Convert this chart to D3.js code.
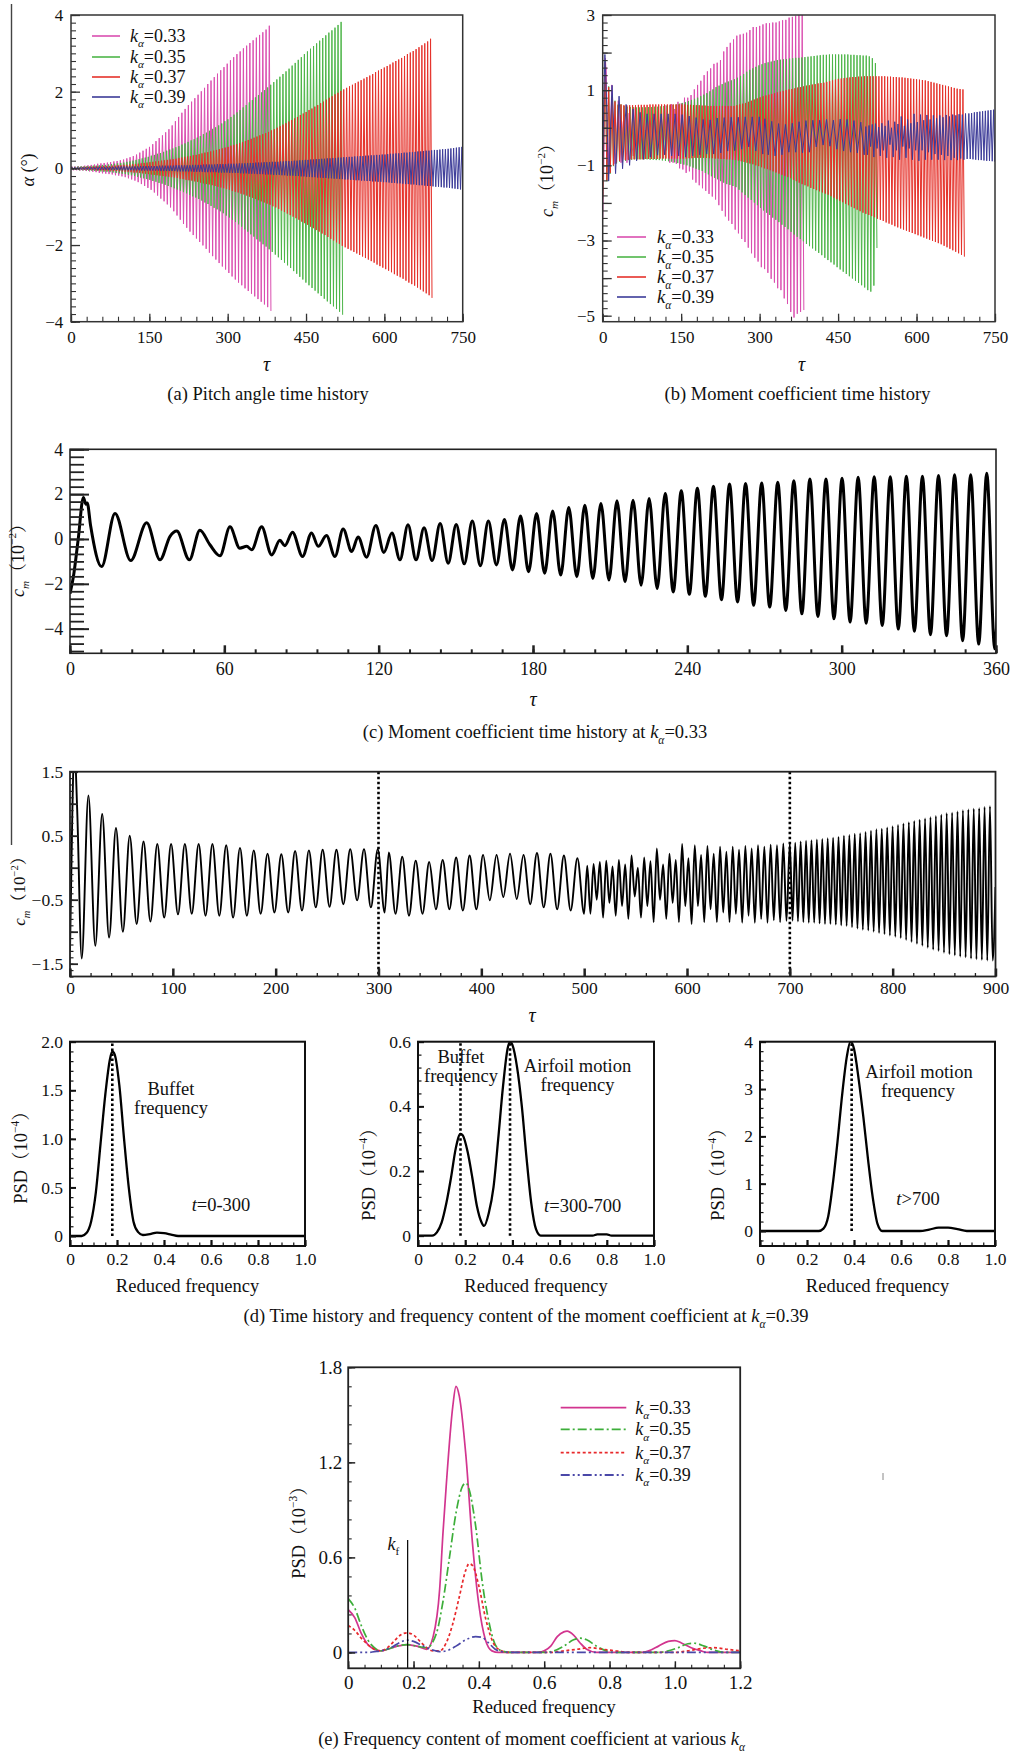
<!DOCTYPE html>
<html><head><meta charset="utf-8">
<script src="https://cdn.jsdelivr.net/npm/d3@7"></script>
<style>html,body{margin:0;padding:0;background:#fff;}svg{display:block;}</style>
</head><body>
<svg id="fig" width="1011" height="1754"></svg>
<script>
// ================= DATA =================
const kValues = ["0.33", "0.35", "0.37", "0.39"];
const colorsTH = ["#DA4FB0", "#4DB548", "#E5322B", "#3C3B98"];
const colorsPSD = ["#D2358F", "#3DAE3A", "#E8282B", "#4A48A8"];

// (a) pitch angle: amplitude of every cycle (deg)
const aStart = 1.5;
const aPeriods = [6.2, 5.86, 5.54, 5.26];
const aAmpK033 = [.05,.05,.06,.06,.07,.08,.09,.1,.12,.13,.14,.15,.16,.18,.19,.21,.23,.26,.29,.32,
  .36,.41,.46,.51,.56,.63,.71,.79,.86,.94,1.02,1.12,1.23,1.34,1.45,1.55,1.65,1.74,1.83,1.92,
  2.01,2.1,2.2,2.29,2.38,2.47,2.56,2.64,2.73,2.82,2.9,2.98,3.05,3.13,3.2,3.27,3.34,3.41,3.48,3.55,3.62,3.72];
const aAmpK035 = [.04,.04,.05,.05,.05,.06,.06,.07,.07,.08,.09,.09,.1,.11,.12,.13,.14,.15,.17,.18,
  .2,.22,.24,.26,.28,.3,.33,.35,.38,.4,.43,.46,.49,.52,.55,.58,.62,.65,.69,.73,
  .76,.8,.84,.89,.93,.98,1.03,1.07,1.12,1.17,1.23,1.28,1.34,1.4,1.46,1.52,1.59,1.65,1.72,1.78,
  1.85,1.91,1.98,2.04,2.11,2.18,2.25,2.32,2.39,2.46,2.53,2.6,2.68,2.75,2.83,2.9,2.98,3.05,3.12,3.19,
  3.26,3.33,3.4,3.47,3.54,3.6,3.67,3.74,3.82];
const aAmpK037 = [.03,.03,.03,.03,.04,.04,.04,.04,.05,.05,.05,.06,.06,.06,.07,.07,.08,.08,.09,.09,
  .1,.11,.11,.12,.13,.14,.15,.16,.17,.18,.19,.2,.21,.22,.23,.24,.25,.27,.28,.3,
  .31,.32,.34,.35,.37,.39,.41,.42,.44,.46,.48,.5,.52,.54,.56,.59,.61,.63,.66,.68,
  .71,.74,.77,.8,.83,.86,.89,.92,.95,.99,1.02,1.06,1.1,1.14,1.18,1.22,1.26,1.3,1.34,1.39,
  1.43,1.47,1.52,1.56,1.61,1.65,1.7,1.74,1.79,1.84,1.88,1.93,1.97,2.02,2.06,2.1,2.14,2.18,2.22,2.26,
  2.3,2.34,2.38,2.42,2.46,2.51,2.55,2.59,2.63,2.67,2.71,2.76,2.8,2.84,2.88,2.93,2.98,3.02,3.06,3.11,
  3.16,3.21,3.26,3.31,3.38];
const aAmpK039 = [.03,.03,.03,.03,.03,.03,.03,.03,.03,.04,.04,.04,.04,.04,.04,.04,.04,.05,.05,.05,
  .05,.05,.05,.05,.05,.06,.06,.06,.06,.06,.06,.06,.07,.07,.07,.07,.07,.07,.08,.08,
  .08,.08,.08,.08,.09,.09,.09,.09,.1,.1,.1,.1,.1,.11,.11,.11,.11,.12,.12,.12,
  .12,.13,.13,.13,.14,.14,.14,.15,.15,.15,.16,.16,.16,.17,.17,.17,.18,.18,.19,.19,
  .19,.2,.2,.21,.21,.22,.22,.23,.23,.24,.24,.25,.25,.26,.26,.27,.27,.28,.28,.29,
  .29,.3,.3,.31,.31,.32,.32,.33,.33,.34,.34,.35,.35,.36,.36,.37,.38,.38,.39,.39,
  .4,.41,.41,.42,.42,.43,.44,.44,.45,.46,.46,.47,.48,.48,.49,.5,.5,.51,.52,.53,.54,.55,.56];

// cm at k=0.33 (panel c, also pink in panel b): early transient [tau, cm], then max/min per cycle
const cmK033Early = [[0,-2.44],[1.3,-1.7],[3.2,0],[5.2,1.85],[6.2,1.55],[6.7,1.6],[8,.6],[12.3,-1.23],[17.5,1.14],
  [23.6,-.96],[29.8,.72],[35,-.93],[38.9,.12],[41.5,.35],[46.4,-.93],[50.5,.39],[54.4,-.26],[58.3,-.75],[62.2,.54],
  [66,-.41],[68.7,-.33],[70.6,-.48],[74.5,.54],[78.4,-.71],[81.6,-.06],[83.5,-.3],[86.5,.3],[90.4,-.78],[93.9,.27],
  [96.5,-.33],[99.7,.15],[103,-.78],[106.2,.45],[109.5,-.56],[112,.09],[115.3,-.81]];
const cmK033Start = 118.9, cmK033Period = 6.25;
const cmK033Max = [.6,.27,.63,.5,.69,.65,.8,.8,.87,1.02,1.14,1.25,1.4,1.5,1.58,1.7,1.73,1.8,2.03,2.15,
  2.26,2.35,2.45,2.48,2.5,2.53,2.6,2.68,2.68,2.71,2.75,2.78,2.78,2.8,2.8,2.83,2.86,2.87,2.93,2.95,2.98,3,3];
const cmK033Min = [-.6,-.93,-.93,-.96,-1.08,-1.11,-1.2,-1.16,-1.38,-1.46,-1.53,-1.61,-1.68,-1.76,-1.83,-1.91,-2.06,-2.21,-2.36,-2.47,
  -2.56,-2.71,-2.81,-2.96,-3.04,-3.19,-3.34,-3.46,-3.56,-3.71,-3.76,-3.86,-4.02,-4.12,-4.27,-4.32,-4.54,-4.69,-4.9,-5.05,-4.95,-4.9,-4.85];

// cm at k=0.35 (panel b, green)
const cmK035Early = [[0,-1.9],[2.5,.3],[5,1.8],[8,-1.42],[11.5,1.1],[14.5,-1.22],[17.5,.85],[20.5,-1.02],[23.5,.72],[26.5,-.95],[29.5,.62],[32.2,-.9]];
const cmK035Start = 35, cmK035Period = 5.86;
const cmK035Max = [.62,.58,.56,.55,.55,.54,.54,.54,.54,.55,.55,.56,.56,.57,.58,.59,.6,.61,.62,.64,
  .66,.68,.71,.74,.77,.8,.84,.88,.92,.97,1.02,1.08,1.12,1.16,1.2,1.23,1.26,1.29,1.33,1.38,
  1.43,1.49,1.54,1.58,1.62,1.66,1.69,1.72,1.74,1.76,1.78,1.8,1.81,1.82,1.83,1.84,1.85,1.86,1.86,1.87,
  1.88,1.89,1.9,1.91,1.92,1.93,1.94,1.94,1.95,1.95,1.95,1.95,1.95,1.95,1.95,1.94,1.94,1.93,1.93,1.92,
  1.92,1.9,1.85,1.72];
const cmK035Min = [-.92,-.88,-.86,-.85,-.84,-.84,-.84,-.84,-.84,-.85,-.85,-.86,-.86,-.87,-.88,-.89,-.9,-.92,-.94,-.96,
  -.98,-1,-1.03,-1.06,-1.09,-1.12,-1.15,-1.2,-1.24,-1.29,-1.33,-1.37,-1.42,-1.46,-1.5,-1.52,-1.55,-1.58,-1.65,-1.72,
  -1.79,-1.86,-1.92,-1.99,-2.06,-2.13,-2.2,-2.26,-2.32,-2.39,-2.45,-2.51,-2.58,-2.64,-2.7,-2.77,-2.84,-2.9,-2.96,-3.02,
  -3.09,-3.15,-3.21,-3.27,-3.33,-3.39,-3.46,-3.52,-3.58,-3.64,-3.71,-3.77,-3.83,-3.89,-3.95,-4.01,-4.07,-4.13,-4.19,-4.25,
  -4.32,-4.36,-4.2,-3.2];

// cm at k=0.37 (panel b, red)
const cmK037Early = [[0,-1.85],[2.5,.2],[5,1.75],[8,-1.4],[11.5,1.08],[14.5,-1.2],[17.5,.82],[20.5,-1],[23.5,.7],[26.5,-.92],[29.5,.6],[32.2,-.88]];
const cmK037Start = 35, cmK037Period = 5.54;
const cmK037Max = [.62,.6,.6,.6,.6,.6,.61,.61,.61,.61,.62,.62,.62,.62,.62,.62,.62,.62,.62,.62,.62,
  .62,.62,.61,.61,.6,.6,.6,.59,.59,.58,.58,.58,.58,.58,.58,.58,.58,.58,.58,
  .6,.62,.64,.66,.69,.72,.75,.78,.81,.84,.86,.88,.9,.92,.94,.96,.98,1,1.02,
  1.03,1.05,1.07,1.08,1.1,1.12,1.13,1.15,1.16,1.18,1.19,1.2,1.22,1.24,1.26,1.28,1.3,1.31,1.32,
  1.33,1.34,1.35,1.35,1.36,1.36,1.37,1.37,1.37,1.37,1.37,1.37,1.37,1.37,1.36,1.36,1.35,1.35,1.34,
  1.34,1.33,1.32,1.31,1.3,1.29,1.28,1.27,1.26,1.24,1.22,1.2,1.18,1.16,1.14,1.12,1.1,1.08,1.06,1.04,
  1.03,1.02];
const cmK037Min = [-.9,-.86,-.85,-.84,-.84,-.84,-.84,-.84,-.83,-.83,-.83,-.83,-.83,-.82,-.82,-.82,-.82,-.82,-.82,-.82,-.82,
  -.82,-.82,-.81,-.81,-.8,-.8,-.8,-.8,-.8,-.81,-.81,-.82,-.82,-.83,-.83,-.84,-.84,-.85,-.85,
  -.87,-.89,-.91,-.93,-.95,-.97,-1,-1.02,-1.05,-1.08,-1.1,-1.13,-1.16,-1.19,-1.22,-1.25,-1.28,-1.31,-1.34,
  -1.38,-1.42,-1.46,-1.5,-1.53,-1.56,-1.6,-1.63,-1.66,-1.69,-1.72,-1.75,-1.78,-1.82,-1.86,-1.9,-1.94,-1.98,-2.02,
  -2.06,-2.1,-2.14,-2.18,-2.22,-2.26,-2.29,-2.32,-2.35,-2.38,-2.42,-2.45,-2.48,-2.52,-2.55,-2.58,-2.62,-2.65,-2.68,
  -2.71,-2.74,-2.77,-2.8,-2.83,-2.86,-2.89,-2.92,-2.95,-2.98,-3.01,-3.04,-3.07,-3.1,-3.14,-3.18,-3.22,-3.26,-3.3,-3.34,
  -3.38,-3.43];

// cm at k=0.39 (panel d, also blue in panel b): transient, then four segments of max/min per cycle
const cmK039Early = [[0,-1.3],[2.2,.8],[4.2,1.95],[7,.9],[11.4,-1.42]];
const cmK039SegStart = [17.9, 310, 503, 700];
const cmK039SegPeriod = [13.4, 13.1, 6.15, 5.26];
const cmK039MaxA = [1.13,.84,.62,.5,.41,.37,.37,.37,.37,.37,.35,.31,.27,.22,.21,.26,.27,.28,.28,.29,.29,.29];
const cmK039MinA = [-1.22,-1.09,-1,-.88,-.84,-.78,-.73,-.72,-.75,-.75,-.78,-.75,-.72,-.7,-.7,-.67,-.62,-.61,-.57,-.51,-.62,-.7];
const cmK039MaxB = [.24,.17,.11,.09,.12,.16,.19,.2,.2,.22,.2,.23,.22,.19,.15];
const cmK039MinB = [-.72,-.75,-.72,-.65,-.65,-.67,-.65,-.51,-.46,-.49,-.57,-.62,-.65,-.67,-.72];
const cmK039MaxC = [.03,.06,.09,.11,.02,.12,.05,.19,0,.16,.1,.3,.05,.22,.12,.37,.15,.35,.2,.34,.22,.33,.25,.33,.28,.34,.3,.35,.33,.36,.35,.38];
const cmK039MinC = [-.72,-.5,-.78,-.55,-.75,-.6,-.8,-.45,-.78,-.6,-.85,-.5,-.8,-.55,-.85,-.6,-.88,-.6,-.85,-.65,-.85,-.7,-.85,-.72,-.86,-.75,-.86,-.8,-.86,-.82,-.85,-.83];
const cmK039MaxD = [.38,.39,.41,.42,.43,.44,.45,.46,.47,.48,.5,.51,.53,.54,.56,.58,.6,.61,.63,.65,.67,.69,.71,.73,.75,.77,.79,.81,.83,.85,.86,.88,.9,.91,.92,.93,.95,.96];
const cmK039MinD = [-.83,-.84,-.85,-.86,-.86,-.87,-.88,-.88,-.89,-.9,-.91,-.93,-.95,-.97,-.98,-1,-1.02,-1.04,-1.06,-1.08,-1.1,-1.13,-1.16,-1.19,-1.22,-1.25,-1.28,-1.3,-1.33,-1.35,-1.37,-1.39,-1.4,-1.42,-1.43,-1.44,-1.45,-1.45];
const cmK039End = [[900,-.3]];
const windowEdges = [300, 700];

// (d) PSD of cm at k=0.39 for three time windows [reduced frequency, PSD x1e-4]
const psdWin1 = [[0,0],[.05,0],[.07,.03],[.09,.15],[.11,.45],[.13,.95],[.15,1.45],[.17,1.82],[.18,1.9],[.19,1.87],[.21,1.55],[.23,1],[.25,.5],[.27,.15],[.29,.04],[.31,.01],[.34,.02],[.37,.035],[.4,.03],[.43,.015],[.46,0],[1,0]];
const psdWin2 = [[0,0],[.06,0],[.08,.01],[.1,.04],[.12,.1],[.14,.18],[.16,.27],[.18,.315],[.19,.31],[.21,.26],[.23,.18],[.25,.09],[.27,.04],[.28,.03],[.3,.07],[.32,.15],[.34,.3],[.36,.46],[.38,.58],[.39,.6],[.4,.59],[.42,.52],[.44,.4],[.46,.24],[.48,.1],[.5,.02],[.52,0],[.74,0],[.76,.004],[.8,.004],[.82,0],[1,0]];
const psdWin3 = [[0,0],[.25,0],[.27,.05],[.29,.3],[.31,1],[.33,1.9],[.35,2.9],[.37,3.7],[.385,4],[.4,3.85],[.42,3.2],[.44,2.4],[.46,1.5],[.48,.7],[.5,.15],[.52,0],[.68,0],[.72,.03],[.76,.07],[.8,.07],[.84,.04],[.88,0],[1,0]];
const buffetFreq = 0.18, motionFreq = 0.39;

// (e) PSD of cm at various k [reduced frequency, PSD x1e-3]
const psdK033 = [[0,.27],[.02,.22],[.04,.12],[.06,.05],[.08,.02],[.1,.01],[.12,.02],[.15,.04],[.18,.05],[.21,.04],[.24,.02],[.26,.1],[.28,.4],[.29,.75],[.3,1.05],[.32,1.55],[.33,1.68],[.34,1.62],[.36,1.25],[.38,.7],[.4,.3],[.42,.08],[.44,.01],[.46,0],[.58,0],[.6,.01],[.62,.04],[.64,.1],[.66,.13],[.67,.135],[.69,.11],[.71,.06],[.73,.02],[.76,0],[.9,0],[.92,.01],[.95,.04],[.98,.07],[1,.075],[1.02,.06],[1.05,.03],[1.08,.01],[1.1,0],[1.2,0]];
const psdK035 = [[0,.34],[.02,.28],[.04,.17],[.06,.08],[.08,.03],[.1,.01],[.12,.02],[.15,.04],[.18,.05],[.21,.04],[.24,.03],[.27,.12],[.29,.32],[.31,.6],[.33,.88],[.35,1.05],[.36,1.07],[.37,1.03],[.39,.8],[.41,.45],[.43,.2],[.45,.05],[.47,.01],[.5,0],[.6,0],[.63,.01],[.66,.04],[.69,.08],[.71,.09],[.73,.08],[.76,.04],[.79,.01],[.82,0],[.95,0],[.98,.01],[1.01,.03],[1.04,.055],[1.06,.058],[1.09,.04],[1.12,.015],[1.15,0],[1.2,0]];
const psdK037 = [[0,.17],[.02,.14],[.04,.09],[.06,.05],[.08,.02],[.1,.01],[.12,.03],[.14,.07],[.16,.11],[.18,.124],[.2,.11],[.22,.07],[.24,.03],[.26,.01],[.28,.01],[.3,.06],[.32,.18],[.34,.35],[.36,.52],[.37,.56],[.38,.55],[.4,.42],[.42,.22],[.44,.08],[.46,.02],[.49,0],[.62,0],[.66,.01],[.7,.02],[.74,.03],[.78,.02],[.82,.01],[.86,0],[1,0],[1.04,.01],[1.08,.025],[1.12,.03],[1.16,.02],[1.2,.01]];
const psdK039 = [[0,0],[.06,0],[.08,.005],[.1,.01],[.13,.03],[.16,.065],[.18,.078],[.2,.07],[.23,.04],[.26,.015],[.28,.005],[.3,.01],[.33,.04],[.36,.08],[.39,.1],[.41,.095],[.43,.06],[.45,.02],[.47,.005],[.5,0],[1.2,0]];
const kfFreq = 0.182, kfTop = 0.71;

// ================= DRAWING =================
const FONT = "'Liberation Serif','Times New Roman',Times,'Noto Serif CJK SC','Noto Sans CJK SC',serif";
const svg = d3.select("#fig");
svg.append("rect").attr("width", 1011).attr("height", 1754).attr("fill", "#fff");

function zig(t0, P, maxs, mins) {
  const pts = [];
  maxs.forEach((m, i) => {
    pts.push([t0 + i * P, m]);
    if (i < mins.length) pts.push([t0 + (i + 0.5) * P, mins[i]]);
  });
  return pts;
}
const rng = (a, b, s) => d3.range(Math.round(a / s), Math.round(b / s) + 1).map(i => +(i * s).toFixed(6));

let clipN = 0;
function makePanel(l, r, t, b, xd, yd) {
  const x = d3.scaleLinear().domain(xd).range([l, r]);
  const y = d3.scaleLinear().domain(yd).range([b, t]);
  const id = "cp" + (clipN++);
  svg.append("clipPath").attr("id", id).append("rect").attr("x", l).attr("y", t).attr("width", r - l).attr("height", b - t);
  const g = svg.append("g");
  const plot = g.append("g").attr("clip-path", `url(#${id})`);
  const over = g.append("g");
  return { x, y, g, plot, over, l, r, t, b };
}
function drawAxes(p, o) {
  const none = () => "";
  const col = o.col || "#222";
  const xb = `translate(0,${p.b})`, yl = `translate(${p.l},0)`;
  const xd = p.x.domain(), yd = p.y.domain();
  const inX = v => v >= Math.min(...xd) - 1e-9 && v <= Math.max(...xd) + 1e-9;
  const inY = v => v >= Math.min(...yd) - 1e-9 && v <= Math.max(...yd) + 1e-9;
  function ax(gen, vals, size, w, fmt, pad, tr) {
    const s = p.over.append("g").attr("transform", tr)
      .call(gen.tickValues(vals).tickSizeInner(size).tickSizeOuter(0).tickPadding(pad).tickFormat(fmt));
    s.select(".domain").remove();
    s.selectAll("line").attr("stroke", col).attr("stroke-width", w);
    s.selectAll("text").attr("font-family", FONT).attr("font-size", o.fs).attr("fill", "#111");
    return s;
  }
  ax(d3.axisBottom(p.x), o.xMinor.filter(inX), -o.xMinLen, o.xMinW, none, 0, xb);
  ax(d3.axisBottom(p.x), o.xMajor.filter(inX), -o.xMajLen, o.xMajW, none, 0, xb);
  ax(d3.axisLeft(p.y), o.yMinor.filter(inY), -o.yMinLen, o.yMinW, none, 0, yl);
  ax(d3.axisLeft(p.y), o.yMajor.filter(inY), -o.yMajLen, o.yMajW, none, 0, yl);
  ax(d3.axisBottom(p.x), o.xLab, 0, 0, o.xFmt, o.xPad, xb).selectAll("line").remove();
  ax(d3.axisLeft(p.y), o.yLab, 0, 0, o.yFmt, o.yPad, yl).selectAll("line").remove();
  p.over.append("rect").attr("x", p.l).attr("y", p.t).attr("width", p.r - p.l).attr("height", p.b - p.t)
    .attr("fill", "none").attr("stroke", col).attr("stroke-width", o.frameW);
}
function rich(parent, x, y, parts, fs, anchor, rotate) {
  const t = parent.append("text").attr("font-family", FONT).attr("font-size", fs).attr("fill", "#111")
    .attr("text-anchor", anchor || "start");
  if (rotate) t.attr("transform", `translate(${x},${y}) rotate(-90)`);
  else t.attr("x", x).attr("y", y);
  let cur = 0;
  parts.forEach(p => {
    if (typeof p === "string") p = { t: p };
    const s = t.append("tspan").text(p.t);
    let target = 0, size = fs;
    if (p.sub) { target = fs * 0.3; size = fs * 0.62; }
    if (p.sup) { target = -fs * 0.42; size = fs * 0.62; }
    if (p.it) s.attr("font-style", "italic");
    if (size !== fs) s.attr("font-size", size);
    if (target !== cur) { s.attr("dy", target - cur); cur = target; }
  });
  return t;
}
const kParts = v => [{ t: "k", it: true }, { t: "α", it: true, sub: true }, "=" + v];
const cmParts = e => [{ t: "c", it: true }, { t: "m", it: true, sub: true }, "（10", { t: "−" + e, sup: true }, "）"];
const psdParts = e => ["PSD（10", { t: "−" + e, sup: true }, "）"];
const signFmt = v => (v < 0 ? "−" : "") + Math.abs(v);
const dec1 = v => v === 0 ? "0" : (v < 0 ? "−" : "") + Math.abs(v).toFixed(1);

// left border line of the page
svg.append("line").attr("x1", 11.5).attr("x2", 11.5).attr("y1", 4).attr("y2", 845).attr("stroke", "#444").attr("stroke-width", 1.4);

// ----- series -----
const serK033 = cmK033Early.concat(zig(cmK033Start, cmK033Period, cmK033Max, cmK033Min));
const serK035 = cmK035Early.concat(zig(cmK035Start, cmK035Period, cmK035Max, cmK035Min));
const serK037 = cmK037Early.concat(zig(cmK037Start, cmK037Period, cmK037Max, cmK037Min));
const serK039 = cmK039Early
  .concat(zig(cmK039SegStart[0], cmK039SegPeriod[0], cmK039MaxA, cmK039MinA))
  .concat(zig(cmK039SegStart[1], cmK039SegPeriod[1], cmK039MaxB, cmK039MinB))
  .concat(zig(cmK039SegStart[2], cmK039SegPeriod[2], cmK039MaxC, cmK039MinC))
  .concat(zig(cmK039SegStart[3], cmK039SegPeriod[3], cmK039MaxD, cmK039MinD))
  .concat(cmK039End);
const aAmps = [aAmpK033, aAmpK035, aAmpK037, aAmpK039];

// ================= (a) =================
{
  const p = makePanel(71, 462.7, 15, 321.7, [0, 750], [-4, 4]);
  const line = d3.line().x(d => p.x(d[0])).y(d => p.y(d[1]));
  aAmps.forEach((amps, k) => {
    const pts = [[0, 0]].concat(zig(aStart, aPeriods[k], amps, amps.map(a => -a)));
    p.plot.append("path").attr("d", line(pts)).attr("fill", "none").attr("stroke", colorsTH[k]).attr("stroke-width", 1);
  });
  drawAxes(p, { fs: 17, xMajor: rng(0, 750, 150), xMinor: rng(0, 750, 30), yMajor: rng(-4, 4, 2), yMinor: rng(-4, 4, 0.2),
    xMajLen: 8, xMinLen: 5, yMajLen: 9, yMinLen: 5, xMajW: 1.3, xMinW: 1.1, yMajW: 1.3, yMinW: 1.1,
    xLab: rng(0, 750, 150), yLab: rng(-4, 4, 2), xFmt: d => d, yFmt: signFmt, xPad: 9.3, yPad: 7.7, frameW: 1.5, col: "#333" });
  kValues.forEach((v, k) => {
    const yy = [36, 57, 77, 97][k];
    p.over.append("line").attr("x1", 92).attr("x2", 120).attr("y1", yy).attr("y2", yy).attr("stroke", colorsTH[k]).attr("stroke-width", 1.6);
    rich(p.over, 130, yy + 6, kParts(v), 18);
  });
  rich(p.over, 34, 170, [{ t: "α", it: true }, " (°)"], 18, "middle", true);
  rich(p.over, 266.7, 371, [{ t: "τ", it: true }], 20, "middle");
  rich(p.over, 268, 400, ["(a) Pitch angle time history"], 18.5, "middle");
}
// ================= (b) =================
{
  const p = makePanel(602.7, 995, 15, 321.7, [0, 750], [-5.16, 3]);
  const line = d3.line().x(d => p.x(d[0])).y(d => p.y(d[1]));
  [serK033, serK035, serK037, serK039].forEach((s, k) => {
    p.plot.append("path").attr("d", line(s)).attr("fill", "none").attr("stroke", colorsTH[k]).attr("stroke-width", 1);
  });
  drawAxes(p, { fs: 17, xMajor: rng(0, 750, 150), xMinor: rng(0, 750, 30), yMajor: rng(-5, 3, 1), yMinor: rng(-5.2, 3, 0.2),
    xMajLen: 8, xMinLen: 5, yMajLen: 9, yMinLen: 5, xMajW: 1.3, xMinW: 1.1, yMajW: 1.3, yMinW: 1.1,
    xLab: rng(0, 750, 150), yLab: [-5, -3, -1, 1, 3], xFmt: d => d, yFmt: signFmt, xPad: 9.3, yPad: 7.7, frameW: 1.5, col: "#333" });
  kValues.forEach((v, k) => {
    const yy = [237, 257, 277, 297][k];
    p.over.append("line").attr("x1", 617).attr("x2", 646).attr("y1", yy).attr("y2", yy).attr("stroke", colorsTH[k]).attr("stroke-width", 1.6);
    rich(p.over, 657, yy + 6, kParts(v), 18.5);
  });
  rich(p.over, 553, 176, cmParts(2), 18, "middle", true);
  rich(p.over, 801.7, 371, [{ t: "τ", it: true }], 20, "middle");
  rich(p.over, 797.5, 400, ["(b) Moment coefficient time history"], 18.5, "middle");
}
// ================= (c) =================
{
  const p = makePanel(70, 996, 449.3, 653.3, [0, 360], [-5.1, 4]);
  const line = d3.line().x(d => p.x(d[0])).y(d => p.y(d[1])).curve(d3.curveMonotoneX);
  p.plot.append("path").attr("d", line(serK033)).attr("fill", "none").attr("stroke", "#000").attr("stroke-width", 3);
  drawAxes(p, { fs: 18, xMajor: rng(0, 360, 60), xMinor: rng(0, 360, 12), yMajor: rng(-4, 4, 2), yMinor: rng(-5, 4, 1 / 3),
    xMajLen: 8, xMinLen: 4, yMajLen: 19, yMinLen: 14, xMajW: 2.5, xMinW: 2, yMajW: 2, yMinW: 1.8,
    xLab: rng(0, 360, 60), yLab: rng(-4, 4, 2), xFmt: d => d, yFmt: signFmt, xPad: 9, yPad: 6.7, frameW: 1.6, col: "#222" });
  rich(p.over, 24, 556, cmParts(2), 18, "middle", true);
  rich(p.over, 533, 706, [{ t: "τ", it: true }], 20, "middle");
  rich(p.over, 535, 738, ["(c) Moment coefficient time history at "].concat(kParts("0.33")), 18.5, "middle");
}
// ================= (d) time history =================
{
  const p = makePanel(70, 995.5, 771.7, 976.5, [0, 900], [-1.7, 1.5]);
  const line = d3.line().x(d => p.x(d[0])).y(d => p.y(d[1])).curve(d3.curveMonotoneX);
  p.plot.append("path").attr("d", line(serK039)).attr("fill", "none").attr("stroke", "#000").attr("stroke-width", 1.9);
  windowEdges.forEach(t => {
    p.plot.append("line").attr("x1", p.x(t)).attr("x2", p.x(t)).attr("y1", p.t).attr("y2", p.b)
      .attr("stroke", "#000").attr("stroke-width", 2.6).attr("stroke-dasharray", "2.5,2.5");
  });
  drawAxes(p, { fs: 17.5, xMajor: rng(0, 900, 100), xMinor: rng(0, 900, 20), yMajor: rng(-1.5, 1.5, 0.5), yMinor: rng(-1.7, 1.5, 0.1),
    xMajLen: 8, xMinLen: 3.5, yMajLen: 8, yMinLen: 3.5, xMajW: 2.5, xMinW: 1.3, yMajW: 1.8, yMinW: 1.2,
    xLab: rng(0, 900, 100), yLab: [-1.5, -0.5, 0.5, 1.5], xFmt: d => d, yFmt: dec1, xPad: 5.1, yPad: 6.7, frameW: 1.8, col: "#222" });
  rich(p.over, 25, 887, cmParts(2), 17, "middle", true);
  rich(p.over, 532, 1022, [{ t: "τ", it: true }], 20, "middle");
}
// ================= (d) PSD panels =================
const psdPanels = [
  { l: 70, r: 305, yd: [-0.103, 2.0], data: psdWin1, yMajor: rng(0, 2, 0.5), yMinor: rng(-0.1, 2, 0.1), yLab: rng(0, 2, 0.5), lines: [buffetFreq], lab: [21, 1153] },
  { l: 418, r: 654, yd: [-0.032, 0.6], data: psdWin2, yMajor: rng(0, 0.6, 0.2), yMinor: rng(0, 0.6, 0.04), yLab: rng(0, 0.6, 0.2), lines: [buffetFreq, motionFreq], lab: [369, 1170] },
  { l: 760, r: 995, yd: [-0.317, 4], data: psdWin3, yMajor: rng(0, 4, 1), yMinor: rng(-0.2, 4, 0.2), yLab: rng(0, 4, 1), lines: [motionFreq], lab: [717.5, 1170] }
];
psdPanels.forEach((c, i) => {
  const p = makePanel(c.l, c.r, 1041.7, 1246, [0, 1], c.yd);
  const line = d3.line().x(d => p.x(d[0])).y(d => p.y(d[1])).curve(d3.curveMonotoneX);
  p.plot.append("path").attr("d", line(c.data)).attr("fill", "none").attr("stroke", "#000").attr("stroke-width", 2.3);
  c.lines.forEach(f => {
    p.plot.append("line").attr("x1", p.x(f)).attr("x2", p.x(f)).attr("y1", p.y(0)).attr("y2", p.t)
      .attr("stroke", "#000").attr("stroke-width", 2.6).attr("stroke-dasharray", "2.5,2.5");
  });
  const yf = i === 2 ? (v => String(v)) : dec1;
  drawAxes(p, { fs: 17.5, xMajor: rng(0, 1, 0.2), xMinor: rng(0, 1, 0.05), yMajor: c.yMajor, yMinor: c.yMinor,
    xMajLen: 6, xMinLen: 3.5, yMajLen: 6, yMinLen: 3.5, xMajW: 2.2, xMinW: 1.2, yMajW: 2, yMinW: 1.2,
    xLab: rng(0, 1, 0.2), yLab: c.yLab, xFmt: dec1, yFmt: yf, xPad: 6.6, yPad: 7, frameW: 2, col: "#111" });
  rich(p.over, c.lab[0] + 6, c.lab[1], psdParts(4), 18.5, "middle", true);
  rich(p.over, (c.l + c.r) / 2, 1292, ["Reduced frequency"], 18.5, "middle");
});
{
  const o = svg.append("g");
  rich(o, 171, 1095, ["Buffet"], 18.5, "middle");
  rich(o, 171, 1114, ["frequency"], 18.5, "middle");
  rich(o, 221, 1211, [{ t: "t", it: true }, "=0-300"], 18.5, "middle");
  rich(o, 461, 1063, ["Buffet"], 18.5, "middle");
  rich(o, 461, 1082, ["frequency"], 18.5, "middle");
  rich(o, 577.5, 1072, ["Airfoil motion"], 18.5, "middle");
  rich(o, 577.5, 1091, ["frequency"], 18.5, "middle");
  rich(o, 582.7, 1211.7, [{ t: "t", it: true }, "=300-700"], 18.5, "middle");
  rich(o, 919, 1078, ["Airfoil motion"], 18.5, "middle");
  rich(o, 918, 1097, ["frequency"], 18.5, "middle");
  rich(o, 918, 1205, [{ t: "t", it: true }, ">700"], 18.5, "middle");
  rich(o, 526, 1322, ["(d) Time history and frequency content of the moment coefficient at "].concat(kParts("0.39")), 18.5, "middle");
}
// ================= (e) =================
{
  const p = makePanel(348.2, 740.2, 1367.3, 1668.3, [0, 1.2], [-0.1, 1.8]);
  const line = d3.line().x(d => p.x(d[0])).y(d => p.y(d[1])).curve(d3.curveMonotoneX);
  const dashes = [null, "9,3,2,3", "3,2.5", "9,3,2,3,2,3"];
  [psdK033, psdK035, psdK037, psdK039].forEach((s, k) => {
    p.plot.append("path").attr("d", line(s)).attr("fill", "none").attr("stroke", colorsPSD[k]).attr("stroke-width", 1.7)
      .attr("stroke-dasharray", dashes[k]);
  });
  p.plot.append("line").attr("x1", p.x(kfFreq)).attr("x2", p.x(kfFreq)).attr("y1", p.y(kfTop)).attr("y2", p.b)
    .attr("stroke", "#000").attr("stroke-width", 1.2);
  drawAxes(p, { fs: 19, xMajor: rng(0, 1.2, 0.2), xMinor: rng(0, 1.2, 0.05), yMajor: rng(0, 1.8, 0.6), yMinor: rng(-0.12, 1.8, 0.12),
    xMajLen: 7, xMinLen: 3.5, yMajLen: 7, yMinLen: 3.5, xMajW: 1.5, xMinW: 1.1, yMajW: 1.5, yMinW: 1.1,
    xLab: rng(0, 1.2, 0.2), yLab: rng(0, 1.8, 0.6), xFmt: dec1, yFmt: dec1, xPad: 7.5, yPad: 6, frameW: 1.8, col: "#222" });
  kValues.forEach((v, k) => {
    const yy = [1407.7, 1429.3, 1452.7, 1475][k];
    p.over.append("line").attr("x1", 560.7).attr("x2", 626.3).attr("y1", yy).attr("y2", yy).attr("stroke", colorsPSD[k])
      .attr("stroke-width", 1.8).attr("stroke-dasharray", dashes[k]);
    rich(p.over, 635.3, yy + 6, kParts(v), 18);
  });
  rich(p.over, 387.5, 1550, [{ t: "k", it: true }, { t: "f", sub: true }], 18);
  rich(p.over, 305, 1528, psdParts(3), 18.5, "middle", true);
  rich(p.over, 544, 1712.7, ["Reduced frequency"], 18.5, "middle");
  rich(p.over, 531.6, 1745, ["(e) Frequency content of moment coefficient at various "].concat([{ t: "k", it: true }, { t: "α", it: true, sub: true }]), 18.5, "middle");
  p.over.append("line").attr("x1", 883).attr("x2", 883).attr("y1", 1473).attr("y2", 1480).attr("stroke", "#888").attr("stroke-width", 1);
}
</script>
</body></html>
